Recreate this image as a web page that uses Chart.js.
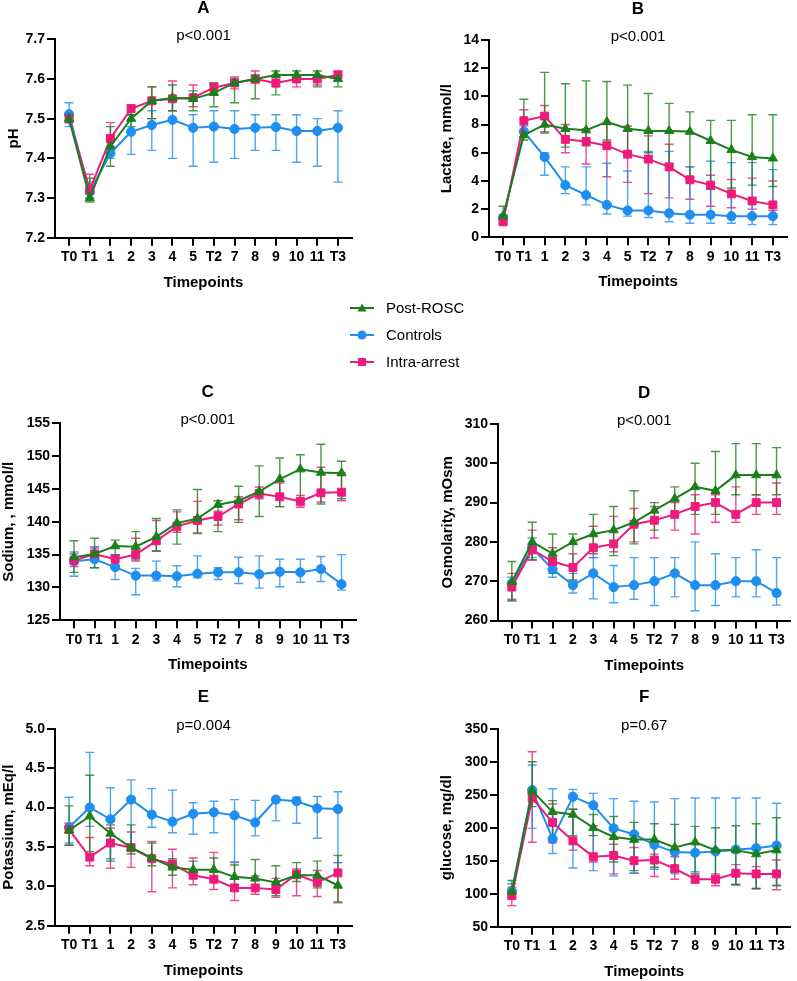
<!DOCTYPE html>
<html>
<head>
<meta charset="utf-8">
<script src="https://cdn.jsdelivr.net/npm/chart.js@4"></script>
<style>
  body { margin: 0; background: #fff; width: 797px; height: 981px; position: relative; overflow: hidden;
         font-family: "Liberation Sans", Arial, sans-serif; }
  canvas { position: absolute; }
  #legend { position: absolute; left: 350px; top: 294px; }
  .item { height: 27px; display: flex; align-items: center; font-size: 15px; color: #000; }
  .item svg { margin-right: 12px; }
</style>
</head>
<body>
<canvas id="chartA" width="398" height="292" style="left:0px;top:0px"></canvas>
<canvas id="chartB" width="399" height="292" style="left:398px;top:0px"></canvas>
<canvas id="chartC" width="398" height="306" style="left:0px;top:370px"></canvas>
<canvas id="chartD" width="399" height="306" style="left:398px;top:370px"></canvas>
<canvas id="chartE" width="398" height="306" style="left:0px;top:675px"></canvas>
<canvas id="chartF" width="399" height="306" style="left:398px;top:675px"></canvas>
<div id="legend"></div>
<script>
const timepoints = ['T0', 'T1', '1', '2', '3', '4', '5', 'T2', '7', '8', '9', '10', '11', 'T3'];
const groups = ['Post-ROSC', 'Controls', 'Intra-arrest'];

// A - pH
const phPost = [7.50, 7.30, 7.43, 7.50, 7.545, 7.552, 7.55, 7.565, 7.59, 7.60, 7.61, 7.61, 7.61, 7.60];
const phPostLo = [7.49, 7.29, 7.38, 7.48, 7.50, 7.52, 7.52, 7.53, 7.54, 7.55, 7.56, 7.60, 7.58, 7.58];
const phPostHi = [7.51, 7.35, 7.48, 7.51, 7.58, 7.585, 7.57, 7.59, 7.60, 7.61, 7.62, 7.62, 7.62, 7.61];
const phCtrl = [7.511, 7.315, 7.413, 7.467, 7.484, 7.497, 7.477, 7.48, 7.474, 7.477, 7.479, 7.469, 7.469, 7.477];
const phCtrlLo = [7.48, 7.30, 7.40, 7.41, 7.42, 7.40, 7.38, 7.39, 7.40, 7.42, 7.42, 7.39, 7.38, 7.34];
const phCtrlHi = [7.54, 7.34, 7.43, 7.51, 7.52, 7.55, 7.51, 7.52, 7.52, 7.51, 7.51, 7.51, 7.50, 7.52];
const phIntra = [7.50, 7.32, 7.45, 7.525, 7.545, 7.55, 7.553, 7.578, 7.59, 7.60, 7.59, 7.60, 7.60, 7.61];
const phIntraLo = [7.49, 7.30, 7.43, 7.51, 7.50, 7.52, 7.53, 7.565, 7.575, 7.59, 7.58, 7.58, 7.585, 7.595];
const phIntraHi = [7.51, 7.36, 7.49, 7.535, 7.58, 7.595, 7.585, 7.59, 7.605, 7.62, 7.605, 7.61, 7.61, 7.62];

// B - lactate
const lacPost = [1.5, 7.25, 8.0, 7.7, 7.6, 8.2, 7.7, 7.55, 7.55, 7.5, 6.85, 6.2, 5.7, 5.6];
const lacPostLo = [1.0, 6.9, 7.4, 6.4, 6.5, 6.9, 6.0, 6.0, 5.2, 4.2, 3.4, 3.5, 3.7, 3.6];
const lacPostHi = [2.2, 9.8, 11.7, 10.9, 11.1, 11.05, 10.8, 10.2, 9.5, 8.9, 8.3, 8.3, 8.7, 8.7];
const lacCtrl = [1.4, 7.5, 5.7, 3.7, 3.0, 2.3, 1.9, 1.9, 1.7, 1.6, 1.6, 1.5, 1.5, 1.5];
const lacCtrlLo = [1.2, 7.1, 4.4, 3.1, 2.3, 1.65, 1.5, 1.4, 1.1, 1.0, 1.0, 1.0, 0.9, 0.9];
const lacCtrlHi = [1.6, 7.9, 6.0, 5.0, 5.0, 5.25, 4.7, 6.1, 6.1, 5.0, 5.4, 5.3, 5.3, 4.8];
const lacIntra = [1.1, 8.27, 8.6, 6.95, 6.8, 6.5, 5.9, 5.55, 5.0, 4.08, 3.7, 3.08, 2.58, 2.3];
const lacIntraLo = [0.9, 7.4, 7.5, 6.0, 5.2, 4.3, 3.9, 3.1, 2.8, 2.7, 2.2, 2.1, 2.0, 1.9];
const lacIntraHi = [1.3, 9.05, 9.35, 8.0, 7.7, 8.0, 7.9, 7.2, 6.6, 5.0, 4.4, 4.1, 4.2, 4.0];

// C - sodium
const naPost = [134.6, 135.1, 136.3, 136.2, 137.7, 139.8, 140.5, 142.6, 143.2, 144.6, 146.5, 148.0, 147.5, 147.4];
const naPostLo = [132.3, 133.0, 134.9, 134.2, 135.5, 136.6, 138.3, 138.5, 139.9, 140.8, 142.3, 143.2, 142.7, 143.5];
const naPostHi = [137.1, 137.5, 137.2, 138.5, 140.5, 141.8, 144.9, 143.2, 145.4, 148.5, 149.7, 150.2, 151.8, 149.2];
const naCtrl = [134.0, 134.3, 133.1, 131.8, 131.8, 131.7, 132.1, 132.3, 132.3, 132.0, 132.4, 132.3, 132.8, 130.5];
const naCtrlLo = [131.7, 133.0, 131.2, 128.9, 131.0, 130.1, 131.5, 131.2, 130.6, 129.9, 130.1, 130.8, 130.9, 129.6];
const naCtrlHi = [135.4, 136.2, 135.0, 132.9, 134.0, 133.3, 134.8, 133.0, 134.6, 134.8, 134.3, 134.3, 134.7, 135.0];
const naIntra = [134.1, 135.1, 134.3, 135.0, 137.1, 139.3, 140.2, 140.8, 142.7, 144.3, 143.8, 143.1, 144.4, 144.5];
const naIntraLo = [133.2, 134.0, 133.4, 134.0, 135.6, 138.4, 138.2, 139.5, 140.3, 143.5, 142.3, 142.2, 143.0, 143.2];
const naIntraHi = [135.1, 136.0, 135.0, 137.5, 140.2, 141.5, 143.1, 141.6, 143.8, 145.3, 145.9, 144.0, 148.3, 147.5];

// D - osmolarity
const osmPost = [269.8, 280, 277, 280, 282, 283, 285, 288, 291, 294, 293, 297, 297, 297];
const osmPostLo = [265, 275.5, 272, 270.3, 277, 276.5, 279.5, 283, 287, 287, 287, 292, 292, 292];
const osmPostHi = [275, 285, 282, 282, 287, 289, 293, 290, 294, 300, 303, 305, 305, 304];
const osmCtrl = [269.5, 278.5, 273, 269, 272, 268.5, 269, 270, 272, 269, 269, 270, 270, 267];
const osmCtrlLo = [265, 276, 271, 267, 265.5, 264.5, 265.4, 263.8, 266, 262.5, 263.8, 266, 266, 263.9];
const osmCtrlHi = [271, 281, 275, 272, 276, 274, 276, 276, 276, 280, 277, 276, 278, 276];
const osmIntra = [268.5, 278, 275, 273.5, 278.5, 279.5, 284.5, 285.5, 287, 289, 290, 287, 290, 290];
const osmIntraLo = [265.4, 275.3, 272.5, 270, 276, 277.5, 280, 281, 283, 282, 285, 285, 287, 287];
const osmIntraHi = [272, 283, 278.5, 277, 284, 286.5, 288.5, 289, 290, 292, 292, 294, 292, 295];

// E - potassium
const kPost = [3.71, 3.89, 3.67, 3.49, 3.36, 3.24, 3.21, 3.21, 3.12, 3.10, 3.05, 3.14, 3.14, 3.01];
const kPostLo = [3.52, 3.44, 3.32, 3.41, 3.26, 3.14, 3.10, 3.08, 2.98, 2.98, 2.88, 3.06, 2.98, 2.80];
const kPostHi = [4.02, 4.41, 3.78, 3.78, 3.55, 3.35, 3.32, 3.36, 3.27, 3.34, 3.26, 3.30, 3.32, 3.39];
const kCtrl = [3.75, 4.0, 3.85, 4.1, 3.91, 3.82, 3.92, 3.94, 3.9, 3.81, 4.1, 4.08, 3.99, 3.98];
const kCtrlLo = [3.55, 3.76, 3.35, 3.45, 3.75, 3.68, 3.66, 3.68, 3.3, 3.64, 3.83, 3.8, 3.61, 3.3];
const kCtrlHi = [4.13, 4.70, 4.25, 4.35, 4.24, 4.22, 4.06, 4.08, 4.10, 4.09, 4.1, 4.13, 4.14, 4.2];
const kIntra = [3.72, 3.37, 3.55, 3.49, 3.35, 3.28, 3.14, 3.09, 2.98, 2.98, 2.96, 3.15, 3.05, 3.17];
const kIntraLo = [3.52, 3.26, 3.23, 3.24, 2.93, 2.98, 3.02, 2.96, 2.82, 2.90, 2.86, 2.88, 2.87, 2.79];
const kIntraHi = [3.80, 3.62, 3.74, 3.69, 3.57, 3.47, 3.36, 3.43, 3.31, 3.13, 3.10, 3.22, 3.20, 3.30];

// F - glucose
const gluPost = [103, 256, 224, 220, 200, 186, 182, 182, 170, 178, 166, 166, 160, 166];
const gluPostLo = [94, 232, 180, 188, 188, 148, 135, 140, 133, 133, 125, 114, 108, 112];
const gluPostHi = [120, 300, 241, 228, 220, 217, 208, 206, 205, 202, 200, 203, 206, 215];
const gluCtrl = [104, 257, 183, 247, 234, 199, 190, 174, 163, 162, 164, 167, 169, 173];
const gluCtrlLo = [94, 199, 161, 139, 135, 127, 131, 137, 130, 130, 117, 114, 108, 113];
const gluCtrlHi = [115, 295, 259, 258, 252, 244, 240, 239, 244, 245, 245, 245, 245, 237];
const gluIntra = [97, 245, 208, 180, 156, 158, 150, 151, 138, 122, 122, 131, 130, 130];
const gluIntraLo = [82, 178, 177, 166, 148, 130, 131, 126, 122, 116, 112, 113, 107, 106];
const gluIntraHi = [110, 315, 236, 228, 203, 175, 170, 160, 156, 130, 130, 144, 141, 151];

const FONT = '"Liberation Sans", Arial, sans-serif';
const GREEN = '#1b7f1b', BLUE = '#1e8ef0', PINK = '#ee1a7c';

Chart.defaults.font.family = FONT;
Chart.defaults.color = '#000';

// error bars drawn under the lines, through the chart's own scales
const errorBars = {
  id: 'errorBars',
  beforeDatasetsDraw(chart) {
    const { ctx, scales: { x, y } } = chart;
    ctx.save();
    ctx.lineWidth = 1.4;
    for (let d = chart.data.datasets.length - 1; d >= 0; d--) {
      const ds = chart.data.datasets[d];
      ctx.strokeStyle = ds.errColor;
      ds.errLo.forEach((lo, i) => {
        const px = x.getPixelForValue(i);
        const y1 = y.getPixelForValue(lo);
        const y2 = y.getPixelForValue(ds.errHi[i]);
        ctx.beginPath();
        ctx.moveTo(px, y1); ctx.lineTo(px, y2);
        ctx.moveTo(px - 4.5, y1); ctx.lineTo(px + 4.5, y1);
        ctx.moveTo(px - 4.5, y2); ctx.lineTo(px + 4.5, y2);
        ctx.stroke();
      });
    }
    ctx.restore();
  }
};

// panel letter and p-value above the plot
const panelText = {
  id: 'panelText',
  afterDraw(chart, args, o) {
    const { ctx, chartArea: a } = chart;
    const cx = (a.left + a.right) / 2;
    ctx.save();
    ctx.fillStyle = '#000';
    ctx.textAlign = 'center';
    ctx.textBaseline = 'middle';
    ctx.font = 'bold 17px ' + FONT;
    ctx.fillText(o.letter, cx, a.top - 31);
    ctx.font = '15px ' + FONT;
    ctx.fillText(o.p, cx, a.top - 3);
    ctx.restore();
  }
};

function series(label, color, style, radius, vals, lo, hi, order) {
  return {
    label: label,
    data: vals.map((v, i) => ({ x: i, y: v })),
    borderColor: color,
    backgroundColor: color,
    errColor: color + 'cc',
    borderWidth: 2,
    pointStyle: style,
    pointRadius: radius,
    pointBorderWidth: 1,
    order: order,
    errLo: lo,
    errHi: hi
  };
}

function makePanel(p) {
  new Chart(document.getElementById(p.id), {
    type: 'line',
    data: {
      datasets: [
        series(groups[0], GREEN, 'triangle', 5.3, p.post[0], p.post[1], p.post[2], 0),
        series(groups[1], BLUE, 'circle', 4.6, p.ctrl[0], p.ctrl[1], p.ctrl[2], 2),
        series(groups[2], PINK, 'rect', 5.6, p.intra[0], p.intra[1], p.intra[2], 1)
      ]
    },
    options: {
      responsive: false,
      animation: false,
      layout: { padding: p.pad },
      plugins: {
        legend: { display: false },
        tooltip: { enabled: false },
        panelText: { letter: p.letter, p: p.p }
      },
      scales: {
        x: {
          type: 'linear',
          min: -0.68,
          max: 13.68,
          afterBuildTicks: axis => { axis.ticks = timepoints.map((t, i) => ({ value: i })); },
          afterFit: axis => { axis.height = 54; },
          ticks: {
            autoSkip: false, maxRotation: 0, padding: 3,
            font: { size: 14, weight: 'bold' },
            callback: (v, i) => timepoints[i]
          },
          grid: { drawOnChartArea: false, drawTicks: true, tickLength: 8, color: '#000', lineWidth: 2 },
          border: { display: true, color: '#000', width: 2 },
          title: { display: true, text: 'Timepoints', padding: 0, font: { size: 15, weight: 'bold' } }
        },
        y: {
          min: p.min,
          max: p.max,
          afterFit: axis => { axis.width = p.yw; },
          ticks: {
            stepSize: p.step, padding: 2,
            font: { size: 14, weight: 'bold' },
            callback: v => v.toFixed(p.dec)
          },
          grid: { drawOnChartArea: false, drawTicks: true, tickLength: 8, color: '#000', lineWidth: 2 },
          border: { display: true, color: '#000', width: 2 },
          title: { display: true, text: p.yTitle, padding: 0, font: { size: 15, weight: 'bold' } }
        }
      }
    },
    plugins: [errorBars, panelText]
  });
}

const panels = [
  { id: 'chartA', letter: 'A', p: 'p<0.001', yTitle: 'pH', min: 7.2, max: 7.7, step: 0.1, dec: 1,
    post: [phPost, phPostLo, phPostHi], ctrl: [phCtrl, phCtrlLo, phCtrlHi], intra: [phIntra, phIntraLo, phIntraHi],
    pad: { left: 5, right: 46, top: 39.3, bottom: 0.3 }, yw: 50 },
  { id: 'chartB', letter: 'B', p: 'p<0.001', yTitle: 'Lactate, mmol/l', min: 0, max: 14, step: 2, dec: 0,
    post: [lacPost, lacPostLo, lacPostHi], ctrl: [lacCtrl, lacCtrlLo, lacCtrlHi], intra: [lacIntra, lacIntraLo, lacIntraHi],
    pad: { left: 40, right: 10, top: 40, bottom: 0.7 }, yw: 51 },
  { id: 'chartC', letter: 'C', p: 'p<0.001', yTitle: 'Sodium, , mmol/l', min: 125, max: 155, step: 5, dec: 0,
    post: [naPost, naPostLo, naPostHi], ctrl: [naCtrl, naCtrlLo, naCtrlHi], intra: [naIntra, naIntraLo, naIntraHi],
    pad: { left: 0, right: 42.5, top: 53.2, bottom: 1.7 }, yw: 60 },
  { id: 'chartD', letter: 'D', p: 'p<0.001', yTitle: 'Osmolarity, mOsm', min: 260, max: 310, step: 10, dec: 0,
    post: [osmPost, osmPostLo, osmPostHi], ctrl: [osmCtrl, osmCtrlLo, osmCtrlHi], intra: [osmIntra, osmIntraLo, osmIntraHi],
    pad: { left: 41, right: 2, top: 54, bottom: 1.5 }, yw: 59 },
  { id: 'chartE', letter: 'E', p: 'p=0.004', yTitle: 'Potassium, mEq/l', min: 2.5, max: 5.0, step: 0.5, dec: 1,
    post: [kPost, kPostLo, kPostHi], ctrl: [kCtrl, kCtrlLo, kCtrlHi], intra: [kIntra, kIntraLo, kIntraHi],
    pad: { left: 0, right: 46, top: 53.7, bottom: 1.3 }, yw: 55 },
  { id: 'chartF', letter: 'F', p: 'p=0.67', yTitle: 'glucose, mg/dl', min: 50, max: 350, step: 50, dec: 0,
    post: [gluPost, gluPostLo, gluPostHi], ctrl: [gluCtrl, gluCtrlLo, gluCtrlHi], intra: [gluIntra, gluIntraLo, gluIntraHi],
    pad: { left: 40, right: 2, top: 53.7, bottom: 0.3 }, yw: 60 }
];

panels.forEach(makePanel);

// shared legend
const markers = {
  'Post-ROSC': '<polygon points="12,1.5 16.5,9.5 7.5,9.5" fill="' + GREEN + '"/>',
  'Controls': '<circle cx="12" cy="6" r="4.5" fill="' + BLUE + '"/>',
  'Intra-arrest': '<rect x="8" y="2" width="8" height="8" fill="' + PINK + '"/>'
};
const legendColors = { 'Post-ROSC': GREEN, 'Controls': BLUE, 'Intra-arrest': PINK };
document.getElementById('legend').innerHTML = groups.map(g =>
  '<div class="item"><svg width="24" height="12"><line x1="0" y1="6" x2="24" y2="6" stroke="' +
  legendColors[g] + '" stroke-width="2"/>' + markers[g] + '</svg>' + g + '</div>'
).join('');
</script>
</body>
</html>
